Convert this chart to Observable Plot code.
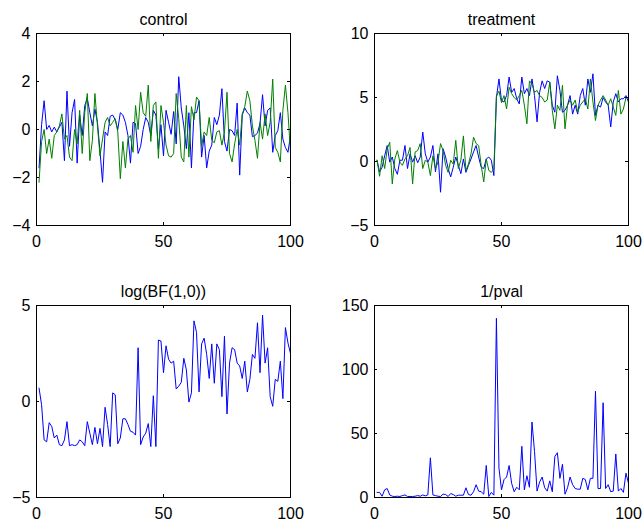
<!DOCTYPE html>
<html><head><meta charset="utf-8">
<script src="https://cdn.jsdelivr.net/npm/d3@7"></script>
<script src="https://cdn.jsdelivr.net/npm/@observablehq/plot@0.6"></script>
<style>
html,body{margin:0;padding:0;background:#fff;}
#fig{position:relative;width:642px;height:529px;overflow:hidden;background:#fff;}
#fig > svg{position:absolute;}
</style></head><body><div id="fig"></div>
<script>
const t = d3.range(1, 101);
const xTicks = [0, 50, 100];

const titles = ["control", "treatment", "log(BF(1,0))", "1/pval"];

const controlTicks = [-4, -2, 0, 2, 4];
const treatmentTicks = [-5, 0, 5, 10];
const logbfTicks = [-5, 0, 5];
const pvalTicks = [0, 50, 100, 150];

const controlBlue = [-1.6,0.2,1.2,0.0,0.17,-0.1,0.1,-0.1,0.1,0.3,
  -1.3,1.6,-0.7,0.7,1.25,-1.4,0.6,-0.25,1.0,1.3,
  0.7,0.15,0.85,0.3,-0.9,-2.2,-0.1,-0.25,0.55,0.6,
  0.4,0.0,0.7,0.6,0.3,-0.25,-1.4,0.3,0.25,-1.0,
  -0.7,0.0,0.5,0.3,-0.25,0.8,0.6,-0.8,0.2,-1.1,
  0.8,0.3,-0.2,0.75,-0.6,2.2,0.9,0.15,-0.8,0.7,
  -1.6,0.7,0.7,1.2,-1.15,-0.25,-1.6,-0.9,-0.65,0.5,
  0.2,0.6,1.7,-0.5,-0.9,0.0,-0.05,-0.25,1.1,-1.9,
  0.6,0.9,0.7,0.6,-0.3,-0.25,-0.15,0.25,1.45,0.15,
  0.8,0.9,-0.95,-0.25,-0.05,0.7,-0.4,-0.75,-0.95,-0.25];

const controlGreen = [-2.2,-0.5,0.0,-1.0,-0.4,-1.2,-0.25,-0.1,0.15,0.65,
  -0.4,-0.25,-1.15,-1.3,0.0,-0.6,0.8,-1.0,0.7,1.5,
  -1.3,-0.45,1.5,0.15,-1.1,-0.4,0.3,0.5,0.15,0.3,
  0.45,-0.1,-2.05,-0.5,-1.6,-0.4,-0.25,-0.95,1.0,0.0,
  1.55,0.7,0.55,1.85,-0.5,1.0,1.15,-1.2,1.0,0.3,
  -0.65,-1.1,-1.15,-1.0,1.5,0.45,-1.15,-1.35,1.0,-1.15,
  0.95,0.4,1.35,1.2,-0.7,-0.1,-0.25,0.5,-0.45,-0.55,
  -0.1,-0.05,-0.65,-0.1,1.55,-1.0,-1.35,-0.6,0.0,-0.65,
  0.65,0.95,1.6,1.2,0.15,-0.45,-1.2,0.3,-0.4,0.65,
  -0.25,0.3,2.1,-0.75,-0.95,-1.35,0.8,1.85,0.7,-0.95];

const treatmentBlue = [0.1,-0.8,-0.45,0.45,1.25,-0.05,0.35,-0.55,-1.0,0.1,
  0.1,1.25,-0.55,0.6,-0.05,0.45,-0.1,0.35,2.3,0.6,
  -0.05,0.35,1.25,-0.8,0.6,-2.4,1.0,0.35,-0.55,-1.2,
  -0.45,0.35,-0.3,-0.95,0.2,-0.85,-0.3,0.2,0.75,1.25,
  0.35,-0.45,-0.55,0.2,0.35,0.1,-1.1,5.0,6.45,4.75,
  4.65,5.15,6.6,5.4,5.7,4.9,4.5,6.6,5.3,5.7,
  5.15,6.45,5.15,3.1,5.4,6.3,5.7,6.3,6.2,4.4,
  3.85,6.7,5.55,3.85,4.0,4.4,5.15,3.7,4.4,3.7,
  5.15,5.7,4.4,6.45,5.4,6.85,3.6,4.4,4.25,5.0,
  4.65,4.4,2.7,4.65,5.3,4.65,4.9,4.9,5.15,4.65];

const treatmentGreen = [0.1,-1.15,0.45,-0.55,1.0,1.5,-1.75,0.2,0.85,-0.05,
  -0.3,0.2,0.45,1.1,-1.75,0.75,0.85,1.4,-0.55,0.1,
  -0.05,-1.1,0.45,-0.55,-0.05,1.4,0.85,-0.3,-0.85,0.1,
  -0.2,1.65,-0.55,0.1,2.0,-0.7,-0.2,0.6,1.9,1.4,
  1.25,-0.3,-1.6,0.2,-0.7,-0.85,-0.6,5.1,5.5,4.6,
  5.15,4.1,5.8,5.3,5.0,4.8,5.15,5.55,4.4,2.95,
  6.3,6.05,5.4,5.55,5.15,5.0,4.65,4.8,6.2,4.0,
  2.55,4.4,4.0,5.95,2.55,4.4,4.8,4.4,4.8,3.85,
  4.4,4.65,4.9,4.1,6.45,4.65,3.2,4.4,4.8,5.15,
  4.8,4.4,4.9,4.25,3.6,5.55,3.7,4.1,5.0,5.0];

const logBF = [0.7,-0.17,-2.0,-2.1,-1.1,-1.3,-1.9,-1.75,-2.25,-2.3,
  -2.0,-1.05,-2.3,-2.25,-2.3,-2.25,-2.0,-2.1,-2.3,-1.05,
  -1.65,-2.25,-1.35,-2.2,-1.4,-2.35,-0.3,-1.2,-2.35,0.45,
  0.35,-2.2,-1.9,-0.9,-0.9,-1.2,-1.55,-1.6,-1.75,2.8,
  -2.25,-1.85,-1.65,-1.15,-2.35,0.3,-2.35,3.2,3.15,1.5,
  2.9,2.2,2.0,2.1,0.65,0.8,1.0,2.25,1.65,-0.03,
  0.45,4.2,3.6,0.5,3.0,3.3,2.45,1.2,3.0,0.95,
  3.0,2.7,0.25,3.4,-0.65,2.0,2.8,2.7,2.0,1.85,
  1.2,2.1,0.5,1.15,2.45,2.25,4.1,1.5,4.5,2.0,
  2.8,0.25,-0.25,1.15,1.05,2.1,0.15,3.85,3.05,2.5];

const invPval = [4,4,1,6,7,2,1,0.8,1,0.8,
  1.5,2,0.8,0.8,0.8,1,1.5,1,2,1.3,
  2,31,2,1.5,1,0.8,2.6,2.3,0.8,3.1,
  2.3,1,1.8,1.8,1.8,7.6,2.3,1.8,4.5,10,
  5,4.5,2.6,25,0.8,4,1.8,140,23,6,
  14,16,25,11,4.5,8,6,40,6,17,
  8,59,36,5,12,16,7.6,5,13,4.5,
  32,35,15,26,2.6,7.6,16,10,7,6.5,
  6.5,15,14,6,15,15,83,7,7,74,
  7,10,4.5,5,34,5,7,4,19,11];

const BLUE = "#0000ff", GREEN = "#008000";
const FONT = "'Liberation Sans', Arial, Helvetica, sans-serif";
const FS = 16;

function panel({title, series, yDomain, yTicks, left, top, width, height, mL, mR, mT, mB}) {
  const fw = width - mL - mR, fh = height - mT - mB;
  const svg = Plot.plot({
    width, height,
    marginLeft: mL, marginRight: mR, marginTop: mT, marginBottom: mB,
    style: {fontFamily: FONT, fontSize: FS + "px", color: "black", background: "white", overflow: "visible"},
    x: {domain: [0, 100], ticks: xTicks, tickSize: 0, tickPadding: 10, label: null},
    y: {domain: yDomain, ticks: yTicks, tickSize: 0, tickPadding: 6, label: null},
    marks: [
      ...series.map(s => Plot.line(s.values, {x: t, y: s.values, stroke: s.color, strokeWidth: 1})),
      Plot.frame({stroke: "black", strokeWidth: 1}),
      Plot.tickX(xTicks, {x: d => d, insetTop: fh - 3, stroke: "black"}),
      Plot.tickX(xTicks, {x: d => d, insetBottom: fh - 3, stroke: "black"}),
      Plot.tickY(yTicks, {y: d => d, insetRight: fw - 3, stroke: "black"}),
      Plot.tickY(yTicks, {y: d => d, insetLeft: fw - 3, stroke: "black"}),
      Plot.text([title], {text: d => d, frameAnchor: "top", dy: -20, fontSize: FS, fill: "black"})
    ]
  });
  svg.style.left = left + "px";
  svg.style.top = top + "px";
  document.getElementById("fig").appendChild(svg);
}

const leftCol = {left: 0, width: 321, mL: 36, mR: 31};
const rightCol = {left: 321, width: 321, mL: 53, mR: 14};
const topRow = {top: 0, height: 264, mT: 33, mB: 39};
const botRow = {top: 264, height: 265, mT: 41, mB: 32};

panel({title: titles[0], yDomain: [-4, 4], yTicks: controlTicks,
  series: [{values: controlBlue, color: BLUE}, {values: controlGreen, color: GREEN}], ...leftCol, ...topRow});
panel({title: titles[1], yDomain: [-5, 10], yTicks: treatmentTicks,
  series: [{values: treatmentBlue, color: BLUE}, {values: treatmentGreen, color: GREEN}], ...rightCol, ...topRow});
panel({title: titles[2], yDomain: [-5, 5], yTicks: logbfTicks,
  series: [{values: logBF, color: BLUE}], ...leftCol, ...botRow});
panel({title: titles[3], yDomain: [0, 150], yTicks: pvalTicks,
  series: [{values: invPval, color: BLUE}], ...rightCol, ...botRow});
</script>
</body></html>
